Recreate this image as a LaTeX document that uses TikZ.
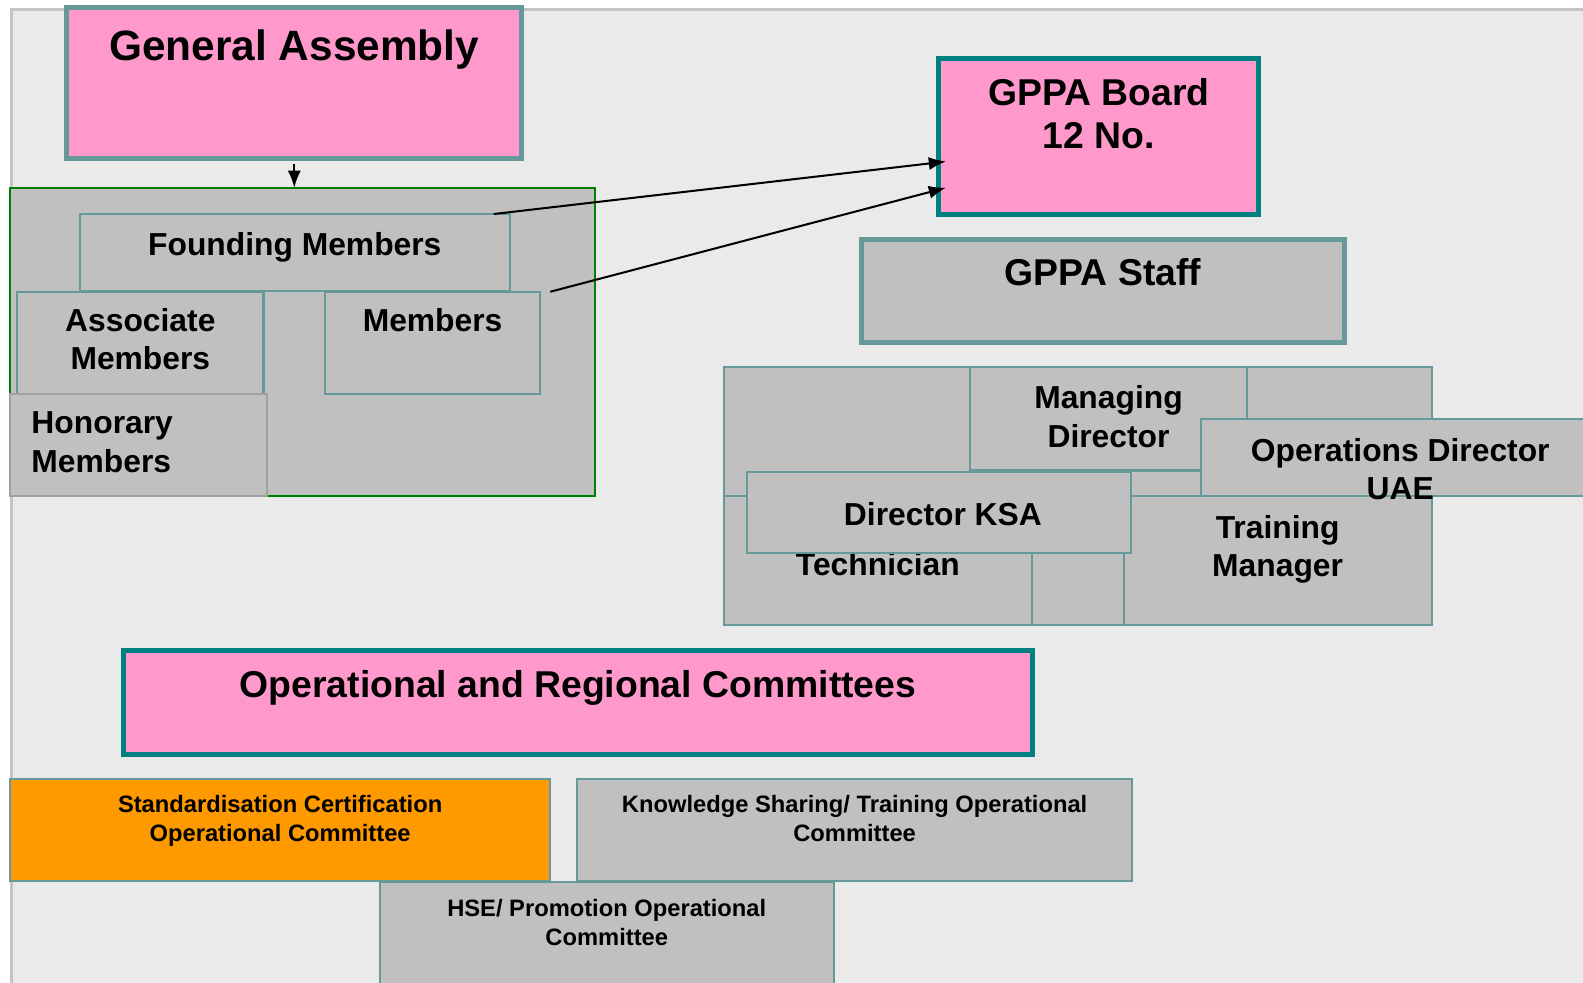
\documentclass[tikz,border=0pt]{standalone}
\usepackage{fontspec}
\setmainfont{Liberation Sans}
\usetikzlibrary{positioning,arrows.meta}
\definecolor{pinkfill}{HTML}{FF99CC}
\definecolor{boxgray}{HTML}{C0C0C0}
\definecolor{slate}{HTML}{669999}
\definecolor{tealline}{HTML}{008080}
\definecolor{greenline}{HTML}{008000}
\definecolor{orangefill}{HTML}{FF9900}
\definecolor{slidebg}{HTML}{EAEAEA}
\definecolor{slideedge}{HTML}{C4C4C4}
\definecolor{honedge}{HTML}{A0A0A0}
\tikzset{
  dims/.style 2 args={minimum width=#1, minimum height=#2},
  orgbox/.style={draw=slate, fill=boxgray, line width=2pt, anchor=north west, inner sep=0pt, outer sep=0pt},
  pinkbox/.style={orgbox, fill=pinkfill, line width=5pt},
  staffbox/.style={orgbox, line width=5pt},
  bigtxt/.style={font=\fontsize{42}{48}\selectfont\bfseries, inner sep=0pt, align=center},
  headtxt/.style={font=\fontsize{37}{43.5}\selectfont\bfseries, inner sep=0pt, align=center},
  midtxt/.style={font=\fontsize{31.5}{38}\selectfont\bfseries, inner sep=0pt, align=center},
  smalltxt/.style={font=\fontsize{23.5}{28.5}\selectfont\bfseries, inner sep=0pt, align=center},
  conn/.style={-{Latex[length=17pt,width=13pt]}, line width=2pt, black}
}
\begin{document}
\begin{tikzpicture}[x=1pt,y=-1pt]
\useasboundingbox (0,0) rectangle (1568,973);
\clip (0,0) rectangle (1568,973);
\filldraw[fill=slidebg, draw=slideedge, line width=3pt] (11,9) rectangle (1600,1000);

% members side
\node[pinkbox, dims={451}{150}] (ga) at (66,7) {};
\node[bigtxt, below=22pt of ga.north] (gatxt) {General Assembly};
\node[orgbox, draw=greenline, dims={579}{305}] (grp) at (10,186) {};
\node[orgbox, dims={426}{76}] (found) at (79,212) {};
\node[midtxt, below=18pt of found.north] (foundtxt) {Founding Members};
\node[orgbox, dims={244}{102}] (assoc) at (17,289) {};
\node[midtxt, below=16pt of assoc.north] (assoctxt) {Associate\\Members};
\node[orgbox, dims={213}{101}] (mem) at (322,289) {};
\node[midtxt, below=16pt of mem.north] (memtxt) {Members};
\node[orgbox, draw=honedge, dims={254}{101}] (hon) at (10,390) {};
\node[midtxt, align=left, below right=18pt and 21pt of hon.north west] (hontxt) {Honorary\\Members};

% board and staff
\node[pinkbox, draw=tealline, dims={317}{154}] (board) at (930,58) {};
\node[headtxt, below=19pt of board.north] (boardtxt) {GPPA Board\\12 No.};
\node[staffbox, dims={479}{102}] (staff) at (853,237) {};
\node[headtxt, below=19pt of staff.north] (stafftxt) {GPPA Staff};

\draw[conn, shorten <=5pt] (ga.south) -- (ga.south |- grp.north);
\draw[conn] ([xshift=-16pt]found.north east) -- ([xshift=7pt,yshift=-25pt]board.west);
\draw[conn] ([xshift=10pt]mem.north east) -- ([xshift=7pt,yshift=-51pt]board.west);

% staff cluster
\node[orgbox, dims={244}{127}] (blankl) at (717,364) {};
\node[orgbox, dims={183}{127}] (blankr) at (1235,364) {};
\node[orgbox, dims={305}{128}] (tech) at (717,491) {};
\node[midtxt, below=56pt of tech.north] (techtxt) {Technician};
\node[orgbox, dims={168}{152}] (spare) at (1022,467) {};
\node[orgbox, dims={305}{128}] (train) at (1113,491) {};
\node[midtxt, below=19pt of train.north] (traintxt) {Training\\Manager};
\node[orgbox, dims={274}{102}] (md) at (961,364) {};
\node[midtxt, below=18pt of md.north] (mdtxt) {Managing\\Director};
\node[orgbox, dims={410}{76}] (ops) at (1190,415) {};
\node[midtxt, below=19pt of ops.north, xshift=-8pt] (opstxt) {Operations Director\\UAE};
\node[orgbox, dims={380}{80}] (ksa) at (740,468) {};
\node[midtxt, below=29pt of ksa.north, xshift=4pt] (ksatxt) {Director KSA};

% committees
\node[pinkbox, draw=tealline, dims={901}{103}] (orc) at (122,644) {};
\node[headtxt, below=20pt of orc.north] (orctxt) {Operational and Regional Committees};
\node[orgbox, fill=orangefill, dims={535}{101}] (std) at (10,772) {};
\node[smalltxt, below=16pt of std.north] (stdtxt) {Standardisation Certification\\Operational Committee};
\node[orgbox, dims={549}{101}] (know) at (572,772) {};
\node[smalltxt, below=16pt of know.north] (knowtxt) {Knowledge Sharing/ Training Operational\\Committee};
\node[orgbox, dims={450}{126}] (hse) at (376,874) {};
\node[smalltxt, below=16.5pt of hse.north] (hsetxt) {HSE/ Promotion Operational\\Committee};
\end{tikzpicture}
\end{document}
